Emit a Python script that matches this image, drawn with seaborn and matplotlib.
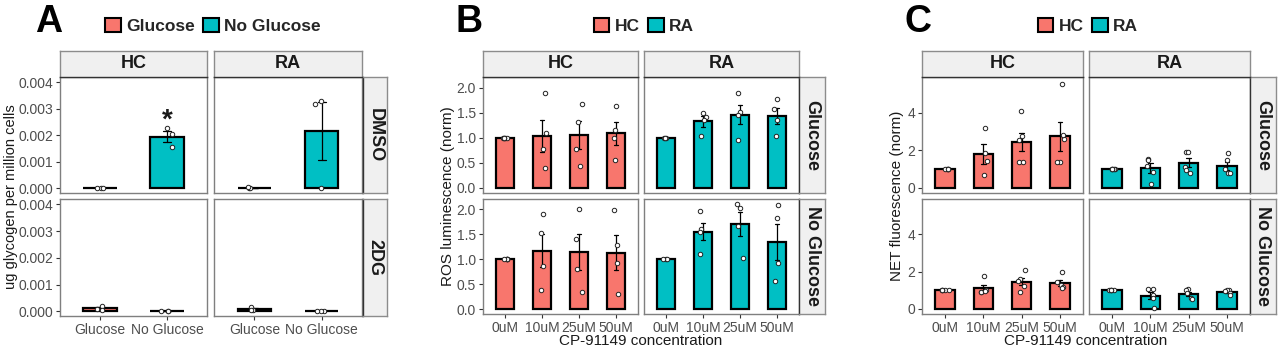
import matplotlib
matplotlib.use('Agg')
import matplotlib.pyplot as plt
from matplotlib.patches import Patch
import seaborn as sns
import pandas as pd
import numpy as np

# ---- data (replicate points) ----
glyc_groups = ['Glucose', 'No Glucose']
glyc_hc_dmso = [[0.00002, 0.00001, 0.00003], [0.00226, 0.00206, 0.00155]]
glyc_ra_dmso = [[0.00003, 0.00002, 0.00004], [0.00331, 0.00317, 0.0]]
glyc_hc_2dg = [[0.00022, 0.00008, 0.00004], [0.00001, 0.0, 0.00001]]
glyc_ra_2dg = [[0.00015, 0.00005, 0.00005], [0.00001, 0.0, 0.00001]]

conc = ['0uM', '10uM', '25uM', '50uM']
ros_hc_glu = [[1, 1, 1, 1, 1], [1.9, 1.09, 0.77, 0.4], [1.68, 1.31, 0.78, 0.43], [1.64, 1.15, 1.0, 0.55]]
ros_ra_glu = [[1, 1, 1], [1.5, 1.42, 1.35, 1.03], [1.9, 1.52, 1.45, 0.96], [1.78, 1.58, 1.35, 1.03]]
ros_hc_nog = [[1, 1, 1, 1, 1], [1.91, 1.53, 0.87, 0.39], [2.0, 1.4, 0.81, 0.35], [1.99, 1.29, 0.92, 0.31]]
ros_ra_nog = [[1, 1, 1], [1.97, 1.6, 1.55, 1.1], [2.1, 2.03, 1.67, 1.03], [2.08, 1.82, 0.93, 0.57]]

net_hc_glu = [[1, 1, 1, 1, 1], [3.16, 1.85, 1.45, 0.7], [4.09, 2.76, 2.55, 1.39, 1.39], [5.55, 2.58, 2.8, 1.39, 1.39]]
net_ra_glu = [[1, 1, 1, 1, 1], [1.55, 1.5, 1.15, 0.85, 0.18], [1.9, 1.9, 1.12, 0.95, 0.76], [1.87, 1.48, 1.0, 0.77, 0.77]]
net_hc_nog = [[1, 1, 1, 1, 1], [1.76, 1.0, 0.91, 0.91, 0.95], [2.08, 1.6, 1.5, 1.2, 0.9], [1.99, 1.43, 1.3, 1.15, 1.11]]
net_ra_nog = [[1, 1, 1, 1, 1], [1.08, 1.08, 0.72, 0.6, 0.04], [1.08, 1.0, 0.86, 0.6, 0.54], [0.99, 0.99, 0.95, 0.83, 0.75]]

RED = '#F8766D'
TEAL = '#00BFC4'
W, H = 1280, 350

sns.set_theme(style='white')
plt.rcParams['font.family'] = ['Liberation Sans', 'DejaVu Sans']
np.random.seed(3)

fig = plt.figure(figsize=(12.8, 3.5), dpi=100)


def rect(x0, x1, y0, y1):
    return [x0 / W, 1 - y1 / H, (x1 - x0) / W, (y1 - y0) / H]


def draw_facet(pos, groups, values, colors, ylim, yticks, fmt, show_x, show_y):
    ax = fig.add_axes(rect(*pos))
    df = pd.DataFrame({'x': [g for g, v in zip(groups, values) for _ in v],
                       'y': [y for v in values for y in v]})
    sns.barplot(data=df, x='x', y='y', hue='x', order=groups, hue_order=groups,
                palette=colors, saturation=1, errorbar='se', width=0.5, edgecolor='black',
                linewidth=1.6, capsize=0.12, err_kws={'color': 'black', 'linewidth': 0.9},
                legend=False, ax=ax)
    sns.stripplot(data=df, x='x', y='y', order=groups, jitter=0.1, color='white',
                  edgecolor='#222222', linewidth=0.7, size=3.2, zorder=3, ax=ax)
    ax.set_xlim(-0.6, len(groups) - 0.4)
    ax.set_ylim(*ylim)
    ax.set_yticks(yticks)
    ax.set_yticklabels([fmt.format(t) for t in yticks])
    ax.set_xlabel('')
    ax.set_ylabel('')
    for s in ax.spines.values():
        s.set_color('#7F7F7F')
        s.set_linewidth(1.0)
    ax.tick_params(axis='both', length=3, width=0.8, color='#333333',
                   labelcolor='#4D4D4D', labelsize=10, pad=2)
    ax.tick_params(bottom=show_x, labelbottom=show_x, left=show_y, labelleft=show_y)
    return ax


def strip(pos, text, rotation=0):
    ax = fig.add_axes(rect(*pos))
    ax.set_facecolor('#F0F0F0')
    ax.set_xticks([])
    ax.set_yticks([])
    for s in ax.spines.values():
        s.set_color('#8C8C8C')
        s.set_linewidth(1.0)
    if rotation == 0:
        ax.spines['bottom'].set_color('#333333')
    else:
        ax.spines['left'].set_color('#333333')
    ax.text(0.5, 0.5, text, transform=ax.transAxes, ha='center', va='center',
            fontsize=13, fontweight='bold', color='#1A1A1A', rotation=rotation)


def panel(cols, strip_x, rows, col_names, row_names, groups, data, colors,
          ylim, yticks, fmt):
    for i, (y0, y1) in enumerate(rows):
        for j, (x0, x1) in enumerate(cols):
            ax = draw_facet((x0, x1, y0, y1), groups, data[i][j], colors[j],
                            ylim, yticks, fmt, i == len(rows) - 1, j == 0)
            if i == 0 and j == 0:
                first = ax
        strip((strip_x[0], strip_x[1], y0, y1), row_names[i], rotation=-90)
    for j, (x0, x1) in enumerate(cols):
        strip((x0, x1, 51, 77), col_names[j])
    return first


rows_a = [(77, 193), (199, 316)]
ax_a = panel([(60, 207), (214, 362)], (363, 387), rows_a, ['HC', 'RA'], ['DMSO', '2DG'],
             glyc_groups,
             [[glyc_hc_dmso, glyc_ra_dmso], [glyc_hc_2dg, glyc_ra_2dg]],
             [[RED, TEAL], [RED, TEAL]],
             (-0.00017, 0.0042), [0, 0.001, 0.002, 0.003, 0.004], '{:.3f}')
ax_a.text(1, 0.00205, '*', ha='center', va='bottom', fontsize=20, fontweight='bold',
          color='#1A1A1A')

rows_bc = [(77, 193), (199, 314)]
panel([(483, 638), (644, 799)], (799, 825), rows_bc, ['HC', 'RA'], ['Glucose', 'No Glucose'],
      conc,
      [[ros_hc_glu, ros_ra_glu], [ros_hc_nog, ros_ra_nog]],
      [[RED] * 4, [TEAL] * 4],
      (-0.1, 2.21), [0, 0.5, 1.0, 1.5, 2.0], '{:.1f}')

panel([(922, 1083), (1089, 1250)], (1250, 1276), rows_bc, ['HC', 'RA'], ['Glucose', 'No Glucose'],
      conc,
      [[net_hc_glu, net_ra_glu], [net_hc_nog, net_ra_nog]],
      [[RED] * 4, [TEAL] * 4],
      (-0.28, 5.9), [0, 2, 4], '{:.0f}')

# axis titles
fig.text(11 / W, 1 - 197 / H, 'ug glycogen per million cells', rotation=90,
         ha='center', va='center', fontsize=10.5, color='#1A1A1A')
fig.text(448 / W, 1 - 196 / H, 'ROS luminescence (norm)', rotation=90,
         ha='center', va='center', fontsize=11, color='#1A1A1A')
fig.text(897 / W, 1 - 196 / H, 'NET fluorescence (norm)', rotation=90,
         ha='center', va='center', fontsize=11, color='#1A1A1A')
fig.text(641 / W, 1 - 341 / H, 'CP-91149 concentration', ha='center', va='center',
         fontsize=11, color='#1A1A1A')
fig.text(1086 / W, 1 - 341 / H, 'CP-91149 concentration', ha='center', va='center',
         fontsize=11, color='#1A1A1A')

# panel letters
for x, letter in [(35, 'A'), (455, 'B'), (905, 'C')]:
    fig.text(x / W, 1 - 32 / H, letter, ha='left', va='baseline', fontsize=27,
             fontweight='bold', color='black')

# legends
def legend(cx, labels):
    handles = [Patch(facecolor=RED, edgecolor='black', linewidth=1.5),
               Patch(facecolor=TEAL, edgecolor='black', linewidth=1.5)]
    fig.legend(handles, labels, loc='center', bbox_to_anchor=(cx / W, 1 - 26 / H),
               ncol=2, frameon=False, prop={'weight': 'bold', 'size': 12.5},
               handlelength=0.9, handleheight=0.9, handletextpad=0.3,
               columnspacing=0.5)

legend(213, ['Glucose', 'No Glucose'])
legend(644, ['HC', 'RA'])
legend(1088, ['HC', 'RA'])

fig.savefig('out.png', dpi=100)
